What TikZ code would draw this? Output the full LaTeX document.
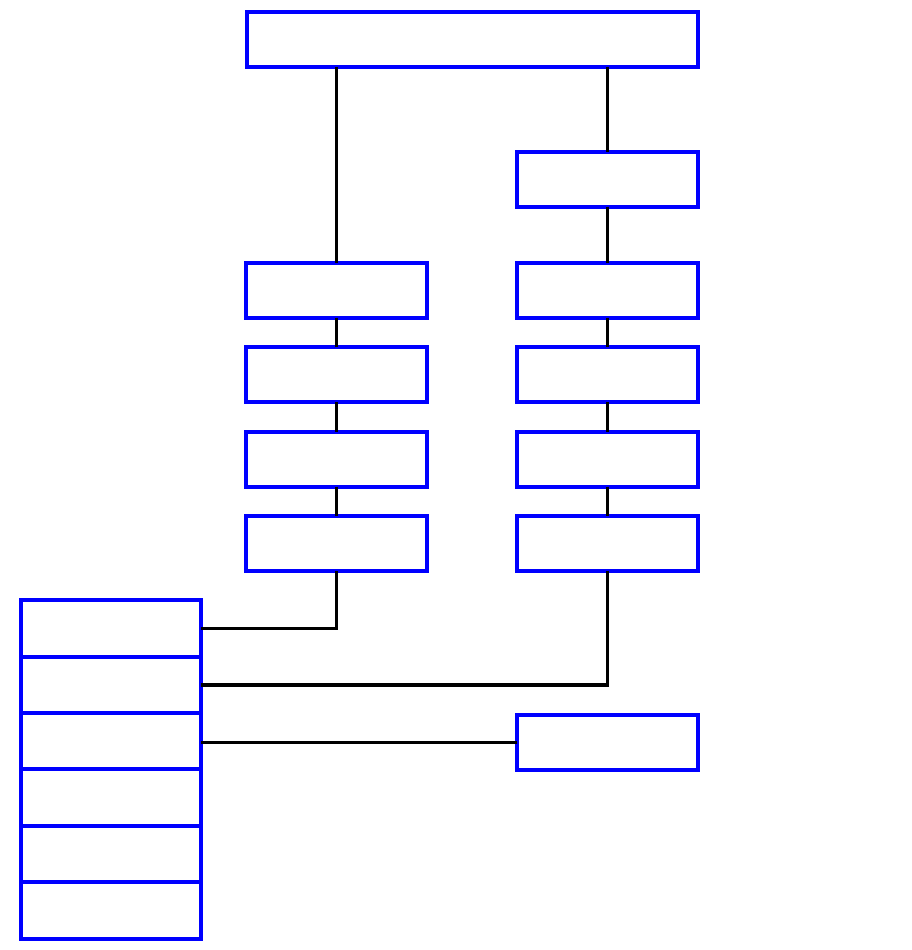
\documentclass[tikz,border=0pt]{standalone}
\usepackage{xcolor}
\usepackage{tikz}
\usetikzlibrary{positioning}
\definecolor{boxblue}{HTML}{0000FF}

\begin{document}
\begin{tikzpicture}[
  x=1pt,y=-1pt,
  node distance=29.6pt,
  bx/.style={draw=boxblue,line width=4pt,outer sep=0pt,minimum width=180.5pt,minimum height=55pt,inner sep=0pt},
  widebx/.style={bx,minimum width=451pt},
  cellbx/.style={bx,minimum height=56.4pt},
  link/.style={line width=3.5pt,black}
]
\useasboundingbox (0,0) rectangle (911,950);

\node[widebx] (head) at (472,40) {};
\node[bx] (r0) at (607.5,179) {};

\node[bx] (l1) at (336.5,290) {};
\node[bx,below=of l1] (l2) {};
\node[bx,below=of l2] (l3) {};
\node[bx,below=of l3] (l4) {};

\node[bx] (r1) at (607.5,290) {};
\node[bx,below=of r1] (r2) {};
\node[bx,below=of r2] (r3) {};
\node[bx,below=of r3] (r4) {};

\node[cellbx] (c1) at (111,628.4) {};
\node[cellbx,below=0pt of c1] (c2) {};
\node[cellbx,below=0pt of c2] (c3) {};
\node[cellbx,below=0pt of c3] (c4) {};
\node[cellbx,below=0pt of c4] (c5) {};
\node[cellbx,below=0pt of c5] (c6) {};

\node[bx] (side) at (607.5,742.5) {};

\draw[link] (head.south -| l1) -- (l1);
\draw[link] (head.south -| r0) -- (r0);
\draw[link] (r0) -- (r1);
\foreach \a/\b in {1/2,2/3,3/4} {
  \draw[link] (l\a) -- (l\b);
  \draw[link] (r\a) -- (r\b);
}
\draw[link] (l4) |- (c1);
\draw[link] (r4) |- (c2);
\draw[link] (side.west) -- (side.west -| c3.east);
\end{tikzpicture}
\end{document}
